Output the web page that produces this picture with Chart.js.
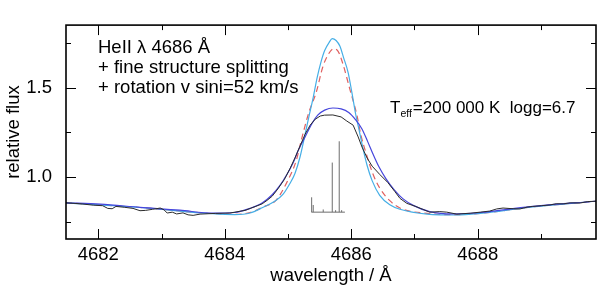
<!DOCTYPE html>
<html>
<head>
<meta charset="utf-8">
<script src="https://cdn.jsdelivr.net/npm/chart.js@4.4.1/dist/chart.umd.min.js"></script>
<style>
  html, body { margin: 0; padding: 0; background: #fff; }
  #wrap { width: 600px; height: 289px; }
</style>
</head>
<body>
<div id="wrap"><canvas id="spec"></canvas></div>
<script>
// observed HeII 4686 profile
const obsWl = [4681.49, 4681.71, 4681.92, 4682.07, 4682.15, 4682.22, 4682.28, 4682.42, 4682.55, 4682.66,
  4682.75, 4682.86, 4682.98, 4683.04, 4683.09, 4683.17, 4683.24, 4683.34, 4683.42, 4683.50,
  4683.61, 4683.85, 4684.08, 4684.32, 4684.48, 4684.59, 4684.67, 4684.75, 4684.84, 4684.94,
  4685.03, 4685.11, 4685.19, 4685.27, 4685.35, 4685.43, 4685.51, 4685.58, 4685.71, 4685.84,
  4685.93, 4686.03, 4686.11, 4686.17, 4686.25, 4686.33, 4686.45, 4686.58, 4686.69, 4686.77,
  4686.88, 4687.01, 4687.13, 4687.24, 4687.40, 4687.51, 4687.67, 4687.88, 4688.04, 4688.19,
  4688.30, 4688.40, 4688.56, 4688.67, 4688.78, 4688.87, 4689.01, 4689.14, 4689.24, 4689.35,
  4689.46, 4689.62, 4689.74, 4689.87];
const obsFlux = [0.856, 0.851, 0.843, 0.840, 0.825, 0.823, 0.836, 0.831, 0.825, 0.812,
  0.814, 0.820, 0.827, 0.817, 0.799, 0.804, 0.794, 0.800, 0.789, 0.786,
  0.793, 0.797, 0.799, 0.814, 0.835, 0.850, 0.870, 0.893, 0.934, 0.985,
  1.046, 1.107, 1.173, 1.239, 1.290, 1.323, 1.341, 1.346, 1.347, 1.336,
  1.313, 1.290, 1.224, 1.168, 1.107, 1.061, 1.015, 0.969, 0.919, 0.881,
  0.853, 0.837, 0.820, 0.804, 0.807, 0.804, 0.793, 0.798, 0.804, 0.810,
  0.822, 0.827, 0.823, 0.822, 0.832, 0.836, 0.840, 0.844, 0.851, 0.850,
  0.856, 0.855, 0.863, 0.865];

// model with rotation (blue)
const rotWl = [4681.49, 4682.03, 4682.66, 4683.29, 4683.81, 4684.16, 4684.40, 4684.59, 4684.75, 4684.87,
  4684.98, 4685.08, 4685.17, 4685.27, 4685.38, 4685.47, 4685.58, 4685.71, 4685.84, 4685.96,
  4686.07, 4686.17, 4686.26, 4686.34, 4686.44, 4686.55, 4686.68, 4686.82, 4686.98, 4687.24,
  4687.61, 4688.04, 4688.83, 4689.87];
const rotFlux = [0.856, 0.849, 0.831, 0.815, 0.798, 0.802, 0.825, 0.855, 0.901, 0.952,
  1.013, 1.079, 1.155, 1.224, 1.300, 1.346, 1.374, 1.386, 1.381, 1.361,
  1.320, 1.269, 1.198, 1.132, 1.056, 0.990, 0.929, 0.878, 0.842, 0.807,
  0.794, 0.802, 0.835, 0.865];

// model with fine structure, no rotation (cyan)
const fsWl = [4681.49, 4682.66, 4683.81, 4684.16, 4684.40, 4684.60, 4684.79, 4684.92, 4685.03, 4685.11,
  4685.19, 4685.27, 4685.33, 4685.40, 4685.46, 4685.52, 4685.58, 4685.65, 4685.70, 4685.76,
  4685.82, 4685.88, 4685.95, 4686.01, 4686.07, 4686.12, 4686.19, 4686.25, 4686.33, 4686.45,
  4686.61, 4686.77, 4687.20, 4687.67, 4688.04, 4688.83, 4689.87];
const fsFlux = [0.856, 0.830, 0.795, 0.790, 0.799, 0.830, 0.865, 0.903, 0.964, 1.020,
  1.112, 1.239, 1.336, 1.447, 1.554, 1.641, 1.707, 1.752, 1.773, 1.763,
  1.732, 1.666, 1.585, 1.473, 1.351, 1.269, 1.153, 1.066, 0.980, 0.898,
  0.845, 0.820, 0.793, 0.788, 0.797, 0.832, 0.865];

// single line model (red dashed)
const plainWl = [4681.49, 4682.66, 4683.81, 4684.16, 4684.40, 4684.60, 4684.81, 4684.98, 4685.13, 4685.22,
  4685.33, 4685.45, 4685.55, 4685.63, 4685.72, 4685.79, 4685.87, 4685.98, 4686.09, 4686.15,
  4686.24, 4686.34, 4686.45, 4686.61, 4686.77, 4687.20, 4687.67, 4688.04, 4688.83, 4689.87];
const plainFlux = [0.856, 0.830, 0.796, 0.792, 0.802, 0.832, 0.870, 0.969, 1.092, 1.219,
  1.361, 1.478, 1.615, 1.681, 1.717, 1.704, 1.630, 1.488, 1.346, 1.239,
  1.127, 1.020, 0.939, 0.868, 0.827, 0.797, 0.790, 0.797, 0.832, 0.865];

// fine structure components
const stickWl = [4685.374, 4685.399, 4685.557, 4685.700, 4685.753, 4685.810, 4685.848];
const stickTop = [0.887, 0.844, 0.819, 1.081, 0.815, 1.200, 0.815];
const stickBase = 0.804;
const stickFrom = 4685.37, stickTo = 4685.90;

const xMin = 4681.49, xMax = 4689.87;
const yMin = 0.654, yMax = 1.849;

const FONT = "'Liberation Sans', Arial, Helvetica, sans-serif";
Chart.defaults.font.family = FONT;
Chart.defaults.color = '#000';

function pts(xs, ys) {
  return xs.map((x, i) => ({x: x, y: ys[i]}));
}

function stickPoints() {
  const out = [{x: stickFrom, y: stickBase}, {x: stickTo, y: stickBase}, {x: stickTo, y: null}];
  stickWl.forEach((w, i) => {
    out.push({x: w, y: stickBase}, {x: w, y: stickTop[i]}, {x: w, y: null});
  });
  return out;
}

// box, inner ticks and text labels
const decor = {
  id: 'decor',
  afterDraw(chart) {
    const {ctx, chartArea: a, scales} = chart;
    const x = scales.x, y = scales.y;
    ctx.save();
    ctx.strokeStyle = '#000';
    ctx.lineWidth = 1;
    ctx.beginPath();
    x.ticks.forEach(t => {
      const px = Math.round(x.getPixelForValue(t.value)) + 0.5;
      const len = (Math.round(t.value) % 2 === 0) ? 10 : 5;
      ctx.moveTo(px, a.bottom); ctx.lineTo(px, a.bottom - len);
      ctx.moveTo(px, a.top); ctx.lineTo(px, a.top + len);
    });
    y.ticks.forEach(t => {
      const py = Math.round(y.getPixelForValue(t.value)) + 0.5;
      const major = Math.abs(t.value * 2 - Math.round(t.value * 2)) < 1e-6;
      const len = major ? 10 : 5;
      ctx.moveTo(a.left, py); ctx.lineTo(a.left + len, py);
      ctx.moveTo(a.right, py); ctx.lineTo(a.right - len, py);
    });
    ctx.stroke();
    ctx.lineWidth = 1.6;
    ctx.strokeRect(a.left, a.top, a.right - a.left, a.bottom - a.top);

    ctx.fillStyle = '#000';
    ctx.textBaseline = 'alphabetic';
    ctx.textAlign = 'left';
    ctx.font = '18.5px ' + FONT;
    ctx.fillText('HeII \u03bb 4686 \u00c5', 98, 53);
    ctx.fillText('+ fine structure splitting', 98, 73);
    ctx.fillText('+ rotation v sini=52 km/s', 98, 93);

    ctx.font = '17px ' + FONT;
    ctx.fillText('T', 390, 113);
    let tx = 390 + ctx.measureText('T').width;
    ctx.font = '10.5px ' + FONT;
    ctx.fillText('eff', tx, 117);
    tx += ctx.measureText('eff').width + 1;
    ctx.font = '17px ' + FONT;
    ctx.fillText('=200 000 K  logg=6.7', tx, 113);
    ctx.restore();
  }
};

new Chart(document.getElementById('spec'), {
  type: 'scatter',
  data: {
    datasets: [
      {data: stickPoints(), showLine: true, spanGaps: false, borderColor: '#6e6e6e', borderWidth: 1, pointRadius: 0, tension: 0},
      {data: pts(obsWl, obsFlux), showLine: true, borderColor: '#2b2b2b', borderWidth: 1, pointRadius: 0, tension: 0},
      {data: pts(rotWl, rotFlux), showLine: true, borderColor: '#4646dc', borderWidth: 1.2, pointRadius: 0, tension: 0.4, cubicInterpolationMode: 'monotone'},
      {data: pts(fsWl, fsFlux), showLine: true, borderColor: '#45aee6', borderWidth: 1.2, pointRadius: 0, tension: 0.4, cubicInterpolationMode: 'monotone'},
      {data: pts(plainWl, plainFlux), showLine: true, borderColor: '#e06060', borderWidth: 1.2, borderDash: [6, 4], pointRadius: 0, tension: 0.4, cubicInterpolationMode: 'monotone'}
    ]
  },
  options: {
    responsive: true,
    maintainAspectRatio: false,
    animation: false,
    events: [],
    layout: {padding: {top: 4, right: 4, left: 0, bottom: 0}},
    plugins: {legend: {display: false}, tooltip: {enabled: false}},
    scales: {
      x: {
        type: 'linear', position: 'bottom', min: xMin, max: xMax,
        grid: {display: false, drawTicks: false},
        border: {display: false},
        ticks: {
          stepSize: 1, autoSkip: false, maxRotation: 0, includeBounds: false, padding: 5,
          font: {size: 18.5},
          callback: v => (Math.round(v) % 2 === 0 ? String(Math.round(v)) : '')
        },
        title: {display: true, text: 'wavelength / \u00c5', font: {size: 18.5}, padding: {top: 0, bottom: 2}},
        afterFit: s => { s.height = 50; }
      },
      y: {
        type: 'linear', position: 'left', min: yMin, max: yMax,
        grid: {display: false, drawTicks: false},
        border: {display: false},
        ticks: {
          stepSize: 0.25, autoSkip: false, includeBounds: false, padding: 14,
          font: {size: 18.5},
          callback: v => (Math.abs(v * 2 - Math.round(v * 2)) < 1e-6 ? v.toFixed(1) : '')
        },
        title: {display: true, text: 'relative flux', font: {size: 18.5}, padding: {top: 3, bottom: 0}},
        afterFit: s => { s.width = 66; }
      }
    }
  },
  plugins: [decor]
});
</script>
</body>
</html>
